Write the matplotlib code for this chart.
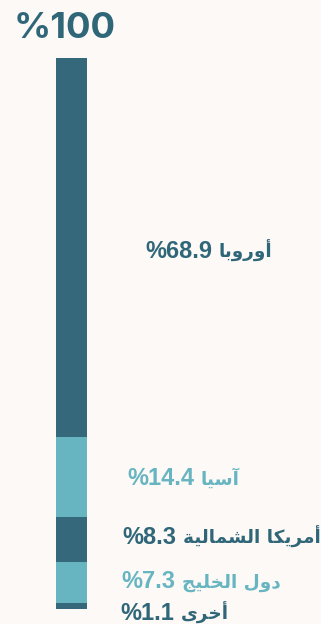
import matplotlib
matplotlib.use("Agg")
import matplotlib.pyplot as plt
import numpy as np

# Export share by destination (percent), top to bottom
regions = ["أوروبا", "آسيا", "أمريكا الشمالية", "دول الخليج", "أخرى"]
shares = [68.9, 14.4, 8.3, 7.3, 1.1]
total_label = "%100"

# Pre-shaped (presentation forms, visual order) versions of the region names,
# since matplotlib does no Arabic shaping or bidi reordering
regions_visual = [
    "\uFE8E\uFE91\uFEED\uFEAD\uFEED\uFE83",
    "\uFE8E\uFEF4\uFEB3\uFE81",
    "\uFE94\uFEF4\uFEDF\uFE8E\uFEE4\uFEB8\uFEDF\uFE8D \uFE8E\uFEDC\uFEF3\uFEAE\uFEE3\uFE83",
    "\uFE9E\uFEF4\uFEE0\uFEA8\uFEDF\uFE8D \uFEDD\uFEED\uFEA9",
    "\uFEEF\uFEAE\uFEA7\uFE83",
]

DARK = "#35687a"
LIGHT = "#67b5c1"
BG = "#fdf9f6"
seg_colors = [DARK, LIGHT, DARK, LIGHT, DARK]
text_colors = ["#2f6779", LIGHT, "#2f6779", LIGHT, "#2f6779"]
label_x = [145, 127, 122, 121, 120]
label_dy = [2, -0.5, -4.5, -3, 6]  # pixel nudges to keep labels apart

W, H = 321, 624
fig = plt.figure(figsize=(W / 100, H / 100), dpi=100)
fig.patch.set_facecolor(BG)

bar_top, bar_bottom = 58, 608.7
ax = fig.add_axes([0, (H - bar_bottom) / H, 1, (bar_bottom - bar_top) / H])
ax.set_facecolor(BG)
ax.set_xlim(0, W)
ax.set_ylim(100, 0)
ax.axis("off")

starts = np.concatenate([[0], np.cumsum(shares)[:-1]])
ax.bar(71.5, shares, bottom=starts, width=31, color=seg_colors, linewidth=0)

px_per_unit = (bar_bottom - bar_top) / 100
for name, val, s, c, x, dy in zip(regions_visual, shares, starts,
                                  text_colors, label_x, label_dy):
    # baseline sits half a digit height below the segment middle
    y_base = s + val / 2 + (8.5 + dy) / px_per_unit
    num = ax.text(x, y_base, f"%{val:.1f}",
                  ha="left", va="baseline", color=c, fontsize=17,
                  fontweight="bold", family=["Liberation Sans"])
    # Arabic name sits right of the number on the same baseline
    ax.annotate(name, xy=(1, y_base), xycoords=(num, "data"),
                xytext=(5, 0), textcoords="offset points",
                ha="left", va="baseline", color=c, fontsize=13.3,
                fontweight="bold", family=["DejaVu Sans"],
                annotation_clip=False)

fig.text(14 / W, (H - 38) / H, total_label, ha="left", va="baseline",
         fontsize=26.3, fontweight="bold", color="#2f6779", family=["Inter"])

fig.savefig("out.png", dpi=100, facecolor=BG)
